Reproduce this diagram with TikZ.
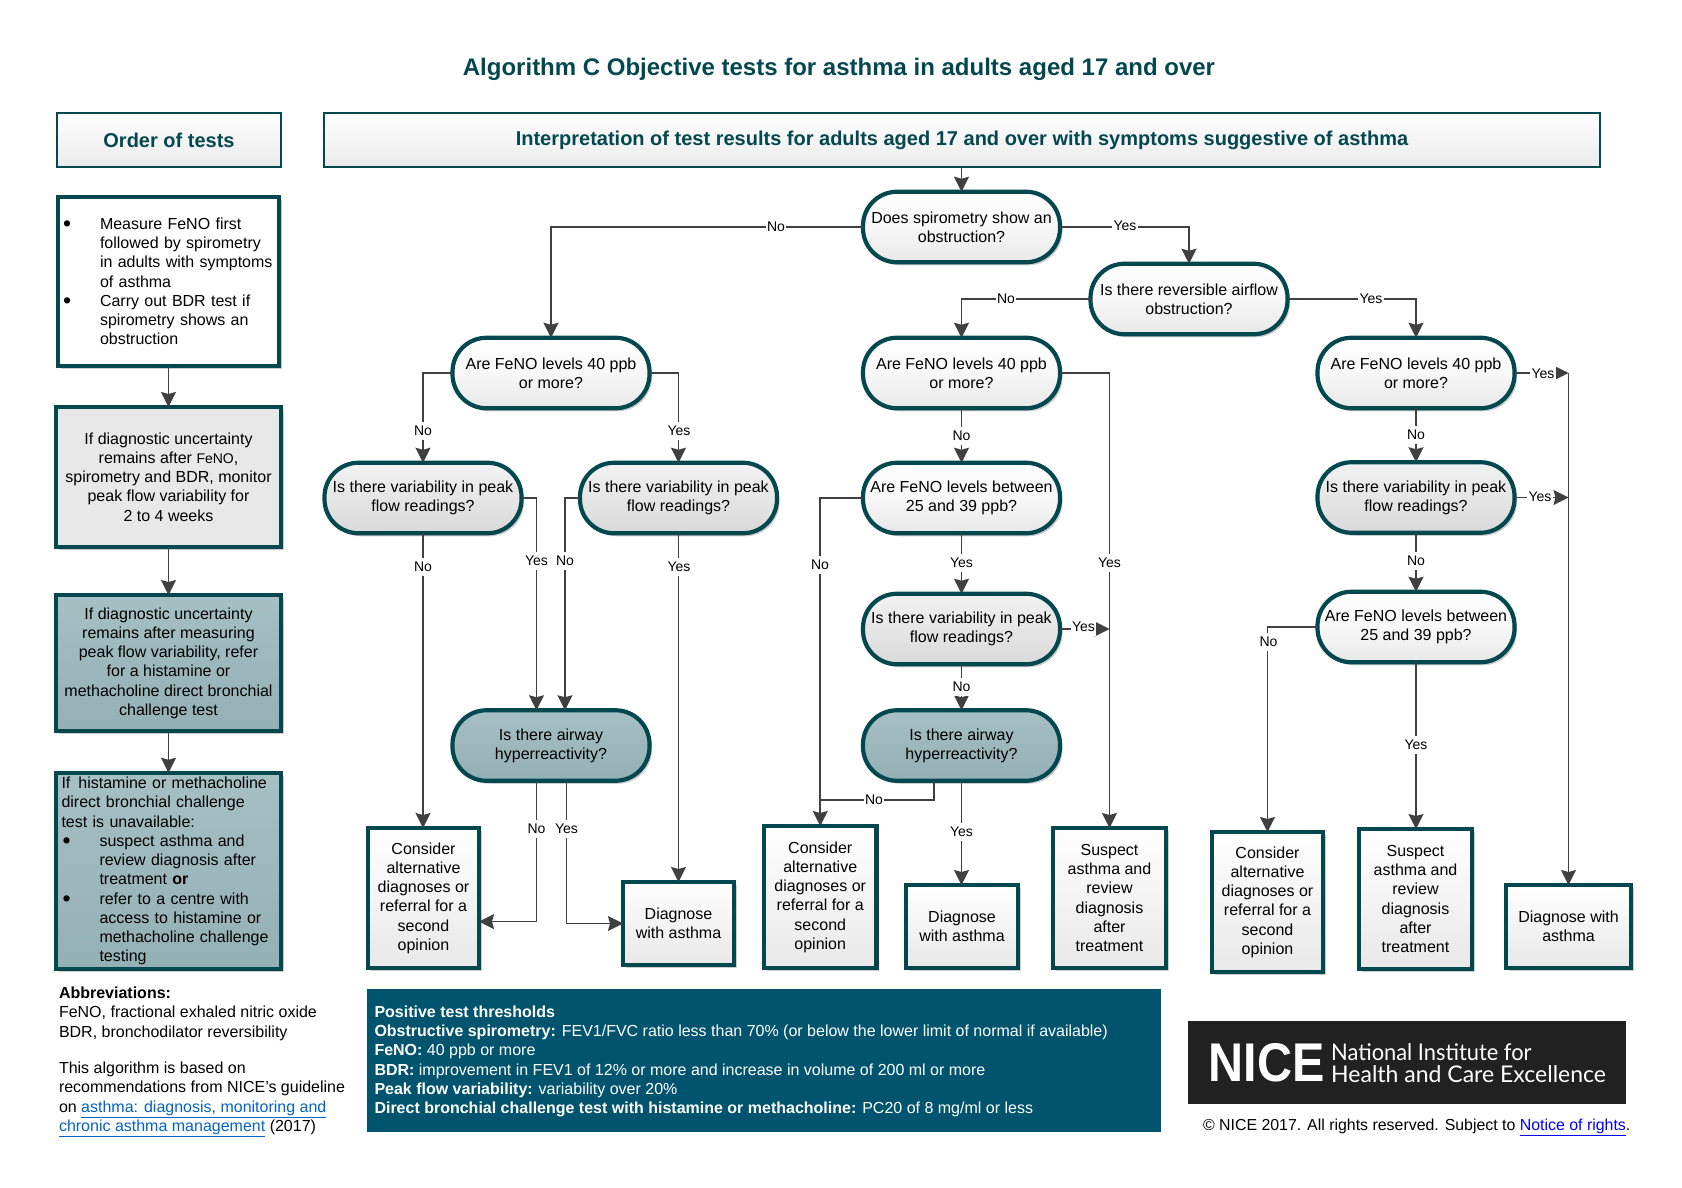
\documentclass[tikz,border=0pt]{standalone}
\usepackage{fontspec}
\setmainfont{Liberation Sans}
\newfontfamily\logofont{Lato}
\usetikzlibrary{arrows.meta,shadows}
\definecolor{teal}{HTML}{03474F}
\definecolor{edge}{HTML}{404040}
\definecolor{bluebox}{HTML}{00546E}
\definecolor{linkblue}{HTML}{0563C1}
\definecolor{tealtop}{HTML}{A6C0C4}
\definecolor{tealbot}{HTML}{93B0B5}
\colorlet{greyend}{black!9}
\colorlet{greymid}{black!3}
\newcommand{\fs}[1]{\fontsize{#1}{19.25}\selectfont}
\newcommand{\bit}{\makebox[38pt][l]{\hspace*{1pt}\raisebox{-2pt}{\fontsize{23}{19}\selectfont\textbullet}}}
\newcommand{\bsp}{\hspace*{38pt}}
\newcommand{\lnk}[1]{\textcolor{linkblue}{\underline{#1}}}
\tikzset{
  softshadow/.style={drop shadow={shadow xshift=2.5pt,shadow yshift=-3pt,opacity=.2,fill=black}},
  base/.style={line width=4.2pt,draw=teal,inner sep=0pt,outer sep=0pt,align=center,font=\fs{16},text=black,softshadow},
  decision/.style={base,rounded corners=34pt,minimum width=197pt,minimum height=70.5pt},
  dwhite/.style={decision,top color=white,bottom color=greyend,middle color=greymid},
  dgrey/.style={decision,top color=black!5,bottom color=black!15},
  dteal/.style={decision,top color=tealtop,bottom color=tealbot},
  term/.style={base,sharp corners,top color=white,bottom color=black!9},
  order/.style={base,sharp corners,minimum width=225pt},
  head/.style={line width=2pt,draw=teal,inner sep=0pt,outer sep=0pt,minimum height=54pt,top color=white,bottom color=black!8,text=teal,font=\fontsize{20}{24}\selectfont\bfseries},
  line/.style={line width=1.7pt,draw=edge},
  arr/.style={line,-{Stealth[length=15pt,width=15pt,inset=2pt]}},
  lab/.style={fill=white,inner xsep=1.5pt,inner ysep=0pt,minimum height=18pt,font=\fontsize{14}{16}\selectfont,text=black},
  plain/.style={inner sep=0pt,outer sep=0pt,align=left,font=\fs{16},text=black},
}
\begin{document}
\begin{tikzpicture}[x=1pt,y=-1pt]
\useasboundingbox (0,0) rectangle (1682,1188);
% title and headers
\node[inner sep=0pt,text=teal,font=\fontsize{24}{28}\selectfont\bfseries] (title) at (839,69) {Algorithm C Objective tests for asthma in adults aged 17 and over};
\node[head,minimum width=224pt] (hOrder) at (169,140) {Order of tests};
\node[head,minimum width=1276pt] (hInterp) at (962,140) {\raisebox{-0.5pt}{Interpretation of test results for adults aged 17 and over with symptoms suggestive of asthma}};
% order column
\node[order,minimum height=169pt,fill=white,text width=213pt,align=left,inner xsep=4pt,minimum width=221pt] (o1) at (168.5,281.5) {\bit Measure FeNO first\\ \bsp followed by spirometry\\ \bsp in adults with symptoms\\ \bsp of asthma\\ \bit Carry out BDR test if\\ \bsp spirometry shows an\\ \bsp obstruction};
\node[order,minimum height=140pt,fill=black!9] (o2) at (168.5,477) {If diagnostic uncertainty\\ remains after {\fontsize{14}{19.25}\selectfont FeNO},\\ spirometry and BDR, monitor\\ peak flow variability for\\ 2 to 4 weeks};
\node[order,minimum height=136pt,top color=tealtop,bottom color=tealbot] (o3) at (168.5,663) {If diagnostic uncertainty\\ remains after measuring\\ peak flow variability, refer\\ for a histamine or\\ methacholine direct bronchial\\ challenge test};
\node[order,minimum height=196.5pt,top color=tealtop,bottom color=tealbot,text width=214pt,inner xsep=5.5pt,align=left] (o4) at (168.5,871) {If\, histamine or methacholine\\ direct bronchial challenge\\ test is unavailable:\\ \bit suspect asthma and\\ \bsp review diagnosis after\\ \bsp treatment \textbf{or}\\ \bit refer to a centre with\\ \bsp access to histamine or\\ \bsp methacholine challenge\\ \bsp testing};
% decisions
\node[dwhite] (d1) at (961.5,227) {Does spirometry show an\\ obstruction?};
\node[dwhite] (d2) at (1189,299) {Is there reversible airflow\\ obstruction?};
\node[dwhite] (f1) at (551,373) {Are FeNO levels 40 ppb\\ or more?};
\node[dwhite] (f2) at (961.5,373) {Are FeNO levels 40 ppb\\ or more?};
\node[dwhite] (f3) at (1416,373) {Are FeNO levels 40 ppb\\ or more?};
\node[dgrey] (v1) at (423,498) {Is there variability in peak\\ flow readings?};
\node[dgrey] (v2) at (678.5,498) {Is there variability in peak\\ flow readings?};
\node[dwhite] (b1) at (961.5,498) {Are FeNO levels between\\ 25 and 39 ppb?};
\node[dgrey] (v3) at (1416,497.5) {Is there variability in peak\\ flow readings?};
\node[dgrey] (v4) at (961.5,629) {Is there variability in peak\\ flow readings?};
\node[dwhite] (b2) at (1416,627) {Are FeNO levels between\\ 25 and 39 ppb?};
\node[dteal] (a1) at (551,745.5) {Is there airway\\ hyperreactivity?};
\node[dteal] (a2) at (961.5,745.5) {Is there airway\\ hyperreactivity?};
% terminals
\node[term,minimum width=111pt,minimum height=140pt] (t1) at (423.5,898) {Consider\\ alternative\\ diagnoses or\\ referral for a\\ second\\ opinion};
\node[term,minimum width=111pt,minimum height=83pt] (t2) at (678.5,923.5) {Diagnose\\ with asthma};
\node[term,minimum width=112.5pt,minimum height=142pt] (t3) at (820.25,897) {Consider\\ alternative\\ diagnoses or\\ referral for a\\ second\\ opinion};
\node[term,minimum width=112pt,minimum height=83pt] (t4) at (962,926.5) {Diagnose\\ with asthma};
\node[term,minimum width=113pt,minimum height=140pt] (t5) at (1109.5,898) {Suspect\\ asthma and\\ review\\ diagnosis\\ after\\ treatment};
\node[term,minimum width=111pt,minimum height=140pt] (t6) at (1267.5,902) {Consider\\ alternative\\ diagnoses or\\ referral for a\\ second\\ opinion};
\node[term,minimum width=113pt,minimum height=140pt] (t7) at (1415.5,899) {Suspect\\ asthma and\\ review\\ diagnosis\\ after\\ treatment};
\node[term,minimum width=125pt,minimum height=83pt] (t8) at (1568.5,926.5) {Diagnose with\\ asthma};
% helper coordinates
\coordinate (r1) at (t8.north |- f3.east);
\coordinate (r2) at (t8.north |- v3.east);
\coordinate (r3) at (t5.north |- v4.east);
\coordinate (j1) at (t3.north |- 0,800);
% connectors
\draw[arr] (hInterp.south -| d1.north) -- (d1.north);
\draw[arr] (o1) -- (o2);
\draw[arr] (o2) -- (o3);
\draw[arr] (o3) -- (o4);
\draw[arr] (d1.west) -| (f1.north);
\draw[arr] (d1.east) -| (d2.north);
\draw[arr] (d2.west) -| (f2.north);
\draw[arr] (d2.east) -| (f3.north);
\draw[arr] (f1.west) -| (v1.north);
\draw[arr] (f1.east) -| (v2.north);
\draw[arr] (v1.east) -| ([xshift=-14.5pt]a1.north);
\draw[arr] (v2.west) -| ([xshift=14pt]a1.north);
\draw[arr] (v1.south) -- (v1.south |- t1.north);
\draw[arr] (v2.south) -- (t2.north);
\draw[arr] ([xshift=-14.5pt]a1.south) |- ([yshift=-23.6pt]t1.east);
\draw[arr] ([xshift=15.5pt]a1.south) |- (t2.west);
\draw[arr] (f2.south) -- (b1.north);
\draw[arr] (f2.east) -| (t5.north);
\draw[arr] (b1.west) -| (t3.north);
\draw[arr] (b1.south) -- (v4.north);
\draw[arr] (v4.east) -- (r3);
\draw[arr] (v4.south) -- (a2.north);
\draw[arr] (a2.south) -- (a2.south |- t4.north);
\draw[line] ([xshift=-27.5pt]a2.south) |- (j1);
\draw[arr] (f3.south) -- (v3.north);
\draw[arr] (v3.south) -- (b2.north);
\draw[arr] (f3.east) -- (r1);
\draw[arr] (v3.east) -- (r2);
\draw[arr] (r1) -- (t8.north);
\draw[arr] (b2.west) -| (t6.north);
\draw[arr] (b2.south) -- (b2.south |- t7.north);
% labels
\node[lab] (l01) at (776,227) {No};
\node[lab] (l02) at (1125,226) {Yes};
\node[lab] (l03) at (1006,299) {No};
\node[lab] (l04) at (1371,299) {Yes};
\node[lab] (l05) at (423,431) {No};
\node[lab] (l06) at (679,431) {Yes};
\node[lab] (l07) at (536.5,561) {Yes};
\node[lab] (l08) at (565,561) {No};
\node[lab] (l09) at (423,567) {No};
\node[lab] (l10) at (679,567) {Yes};
\node[lab] (l11) at (961.5,436) {No};
\node[lab] (l12) at (1109.5,563) {Yes};
\node[lab] (l13) at (820,565) {No};
\node[lab] (l14) at (961.5,563) {Yes};
\node[lab] (l15) at (1083.5,627) {Yes};
\node[lab] (l16) at (961.5,687) {No};
\node[lab] (l17) at (961.5,831.5) {Yes};
\node[lab] (l18) at (874,800) {No};
\node[lab] (l19) at (536.5,829) {No};
\node[lab] (l20) at (566.5,829) {Yes};
\node[lab] (l21) at (1543,374) {Yes};
\node[lab] (l22) at (1540,497) {Yes};
\node[lab] (l23) at (1416,435) {No};
\node[lab] (l24) at (1416,561) {No};
\node[lab] (l25) at (1268.5,642) {No};
\node[lab] (l26) at (1416,745) {Yes};
% footer
\node[plain,anchor=north west] (abbr) at (59,987) {\textbf{Abbreviations:}\\ FeNO, fractional exhaled nitric oxide\\ BDR, bronchodilator reversibility\\[17.25pt] This algorithm is based on\\ recommendations from NICE’s guideline\\ on \lnk{asthma: diagnosis, monitoring and}\\ \lnk{chronic asthma management} (2017)};
\node[fill=bluebox,inner sep=0pt,outer sep=0pt,minimum width=794pt,minimum height=143pt] (pbox) at (764,1060.5) {};
\node[plain,anchor=west,text=white] (ptxt) at (374.5,1061.5) {\textbf{Positive test thresholds}\\ \textbf{Obstructive spirometry:} FEV1/FVC ratio less than 70\% (or below the lower limit of normal if available)\\ \textbf{FeNO:} 40 ppb or more\\ \textbf{BDR:} improvement in FEV1 of 12\% or more and increase in volume of 200 ml or more\\ \textbf{Peak flow variability:} variability over 20\%\\ \textbf{Direct bronchial challenge test with histamine or methacholine:} PC20 of 8 mg/ml or less};
\node[fill=black!87,inner sep=0pt,outer sep=0pt,minimum width=438pt,minimum height=83pt] (logo) at (1407,1062.5) {};
\node[inner sep=0pt,anchor=west,text=white,font=\fontsize{54.5}{56}\selectfont\bfseries] (nice) at (1208.5,1063) {\scalebox{0.89}[1]{NICE}};
\node[inner sep=0pt,anchor=west,text=white,align=left,font=\logofont\fontsize{23}{22.5}\selectfont] (nicetxt) at (1331,1063) {\scalebox{0.95}[1]{National Institute for}\\ Health and Care Excellence};
\node[plain,anchor=west,font=\fs{15.9}] (copy) at (1203,1127) {© NICE 2017. All rights reserved. Subject to \textcolor{blue}{\underline{Notice of rights}}.};
\end{tikzpicture}
\end{document}
